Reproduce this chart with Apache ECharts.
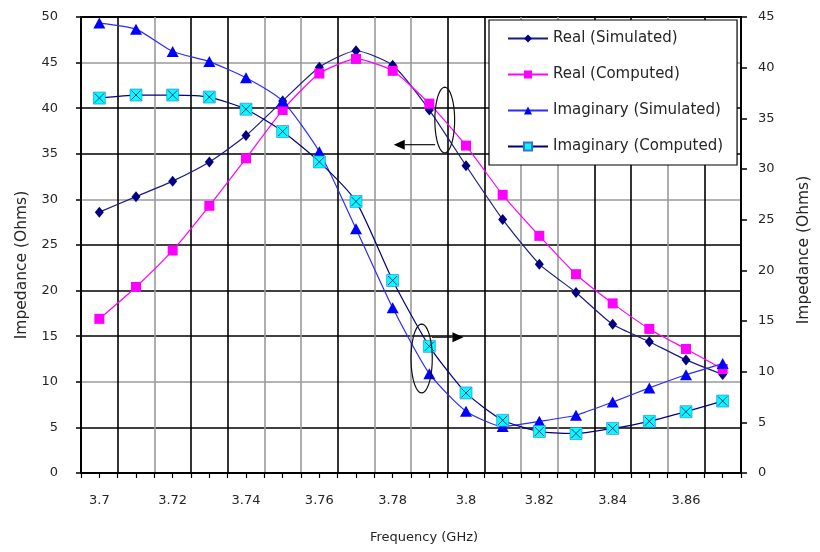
<!DOCTYPE html>
<html>
<head>
<meta charset="utf-8">
<script src="https://cdn.jsdelivr.net/npm/echarts@6/dist/echarts.min.js"></script>
<style>
  html, body { margin: 0; padding: 0; background: #fff; }
  #chart { width: 820px; height: 552px; }
</style>
</head>
<body>
<div id="chart"></div>
<script>
// Frequency points (GHz)
const frequencies = ['3.7', '3.71', '3.72', '3.73', '3.74', '3.75', '3.76', '3.77', '3.78',
                     '3.79', '3.8', '3.81', '3.82', '3.83', '3.84', '3.85', '3.86', '3.87'];

// Real part of impedance (Ohms), left axis
const realSimulated = [28.6, 30.3, 32.0, 34.1, 37.0, 40.8, 44.5, 46.3, 44.7,
                       39.8, 33.7, 27.8, 22.9, 19.8, 16.3, 14.4, 12.4, 10.8];
const realComputed  = [16.9, 20.4, 24.4, 29.3, 34.5, 39.8, 43.8, 45.4, 44.1,
                       40.5, 35.9, 30.5, 26.0, 21.8, 18.6, 15.8, 13.6, 11.4];

// Imaginary part of impedance (Ohms), right axis
const imagSimulated = [44.4, 43.8, 41.6, 40.6, 39.0, 36.7, 31.7, 24.1, 16.3,
                       9.8, 6.1, 4.6, 5.1, 5.7, 7.0, 8.4, 9.7, 10.8];
const imagComputed  = [37.0, 37.3, 37.3, 37.1, 35.9, 33.7, 30.7, 26.8, 19.0,
                       12.5, 7.9, 5.2, 4.1, 3.9, 4.4, 5.1, 6.05, 7.1];

// Axis ranges
const leftAxisRange = { min: 0, max: 50, step: 5 };
const rightAxisRange = { min: 0, max: 45, step: 5 };

const seriesNames = ['Real (Simulated)', 'Real (Computed)', 'Imaginary (Simulated)', 'Imaginary (Computed)'];

// Minor tick slots: two per frequency (boundaries and centres)
const halfSlots = frequencies.flatMap(f => [f + 'a', f + 'b']);

const FONT = 'DejaVu Sans';
const TEXT = '#262626';
const K = '#000', G = '#9a9a9a';
const xGridColors = [K, K, G, K, K, G, G, K, G, G, K, K, G, G, K, K, G, K, K];
const yGridColors = [K, K, G, K, K, K, G, K, K, G, K];

const chart = echarts.init(document.getElementById('chart'), null, { renderer: 'canvas' });

const option = {
  animation: false,
  backgroundColor: '#fff',
  grid: { left: 81, right: 77, top: 17, bottom: 79, show: true, borderColor: '#000', borderWidth: 2, backgroundColor: 'transparent' },
  legend: {
    data: seriesNames,
    orient: 'vertical',
    left: 489, top: 20,
    itemWidth: 40, itemHeight: 10, itemGap: 21,
    padding: [11, 14, 11, 18],
    backgroundColor: '#fff',
    borderColor: '#000', borderWidth: 1.2, borderRadius: 0,
    textStyle: { fontFamily: FONT, fontSize: 15, color: TEXT },
    selectedMode: false
  },
  xAxis: [
    {
      type: 'category',
      data: frequencies,
      boundaryGap: true,
      position: 'bottom',
      axisLine: { lineStyle: { color: '#000', width: 2 } },
      axisTick: { show: false },
      axisLabel: { interval: 1, margin: 21, fontFamily: FONT, fontSize: 13, color: TEXT },
      splitLine: { show: true, interval: 0, lineStyle: { color: xGridColors, width: 1.6 } },
      name: 'Frequency (GHz)', nameLocation: 'middle', nameGap: 58,
      nameTextStyle: { fontFamily: FONT, fontSize: 13, color: TEXT, padding: [0, 0, 0, 26] }
    },
    {
      type: 'category',
      data: halfSlots,
      boundaryGap: true,
      position: 'bottom',
      axisLine: { show: false },
      axisTick: { show: true, interval: 0, length: 5, lineStyle: { color: '#000', width: 1.2 } },
      axisLabel: { show: false },
      splitLine: { show: false }
    }
  ],
  yAxis: [
    {
      type: 'value', position: 'left',
      min: leftAxisRange.min, max: leftAxisRange.max, interval: leftAxisRange.step,
      axisLine: { show: true, lineStyle: { color: '#000', width: 2 } },
      axisTick: { show: true, length: 5, lineStyle: { color: '#000', width: 1.5 } },
      axisLabel: { margin: 23, fontFamily: FONT, fontSize: 13, color: TEXT },
      splitLine: { show: true, lineStyle: { color: yGridColors, width: 1.6 } },
      name: 'Impedance (Ohms)', nameLocation: 'middle', nameGap: 51, nameRotate: 90,
      nameTextStyle: { fontFamily: FONT, fontSize: 15.5, color: TEXT, padding: [0, 40, 0, 0] }
    },
    {
      type: 'value', position: 'right',
      min: rightAxisRange.min, max: rightAxisRange.max, interval: rightAxisRange.step,
      axisLine: { show: true, lineStyle: { color: '#000', width: 2 } },
      axisTick: { show: true, length: 6, lineStyle: { color: '#000', width: 1.5 } },
      axisLabel: { margin: 17, fontFamily: FONT, fontSize: 13, color: TEXT },
      splitLine: { show: false },
      name: 'Impedance (Ohms)', nameLocation: 'middle', nameGap: 55, nameRotate: 90,
      nameTextStyle: { fontFamily: FONT, fontSize: 15.5, color: TEXT, padding: [0, 10, 0, 0] }
    }
  ],
  series: [
    {
      name: seriesNames[0], type: 'line', xAxisIndex: 0, yAxisIndex: 0,
      data: realSimulated, smooth: 0.2,
      symbol: 'diamond', symbolSize: [9, 11],
      itemStyle: { color: '#000080' },
      lineStyle: { color: '#1a1a8c', width: 1.2 }, z: 3
    },
    {
      name: seriesNames[1], type: 'line', xAxisIndex: 0, yAxisIndex: 0,
      data: realComputed, smooth: 0.2,
      symbol: 'rect', symbolSize: 10,
      itemStyle: { color: '#ff00ff' },
      lineStyle: { color: '#ff00ff', width: 1.2 }, z: 3
    },
    {
      name: seriesNames[2], type: 'line', xAxisIndex: 0, yAxisIndex: 1,
      data: imagSimulated, smooth: 0.2,
      symbol: 'triangle', symbolSize: [12, 11],
      itemStyle: { color: '#0000ff' },
      lineStyle: { color: '#2b2bff', width: 1.2 }, z: 3
    },
    {
      name: seriesNames[3], type: 'line', xAxisIndex: 0, yAxisIndex: 1,
      data: imagComputed, smooth: 0.2,
      symbol: 'rect', symbolSize: 12,
      itemStyle: { color: '#00ffff', borderColor: '#3a6fd8', borderWidth: 0.6 },
      lineStyle: { color: '#000080', width: 1.2 }, z: 3
    },
    {
      // cross drawn inside each computed imaginary marker
      name: seriesNames[3], type: 'scatter', xAxisIndex: 0, yAxisIndex: 1,
      data: imagComputed,
      symbol: 'path://M0,0L10,10M10,0L0,10', symbolSize: 9,
      itemStyle: { color: 'transparent', borderColor: '#000080', borderWidth: 1 },
      silent: true, z: 4
    }
  ]
};

chart.setOption(option);

// Annotation helpers: fractional category index + value -> pixel
function toPixel(idx, val, yAxisIndex) {
  const i0 = Math.floor(idx), f = idx - i0;
  const a = chart.convertToPixel({ xAxisIndex: 0, yAxisIndex }, [i0, val]);
  const b = chart.convertToPixel({ xAxisIndex: 0, yAxisIndex }, [i0 + 1, val]);
  return [a[0] + (b[0] - a[0]) * f, a[1]];
}
function ellipsePoints(cx, cy, rx, ry) {
  const pts = [];
  for (let k = 0; k < 48; k++) {
    const t = (k / 48) * Math.PI * 2;
    pts.push([cx + rx * Math.cos(t), cy + ry * Math.sin(t)]);
  }
  return pts;
}
const catWidth = toPixel(1, 0, 0)[0] - toPixel(0, 0, 0)[0];

// Ellipse + arrow marking which axis each pair of curves uses
const callouts = [
  { axis: 0, centerIdx: 9.42, top: 42.3, bottom: 35.1, halfWidth: 0.27, arrowVal: 36.0, tipIdx: 8.03, dir: -1 },
  { axis: 1, centerIdx: 8.79, top: 14.7, bottom: 7.9, halfWidth: 0.29, arrowVal: 13.4, tipIdx: 9.93, dir: 1 }
];

const graphics = [];
callouts.forEach(c => {
  const topPt = toPixel(c.centerIdx, c.top, c.axis);
  const botPt = toPixel(c.centerIdx, c.bottom, c.axis);
  const cx = topPt[0], cy = (topPt[1] + botPt[1]) / 2;
  const rx = c.halfWidth * catWidth, ry = (botPt[1] - topPt[1]) / 2;
  graphics.push({
    type: 'polygon', z: 10,
    shape: { points: ellipsePoints(cx, cy, rx, ry) },
    style: { fill: 'none', stroke: '#111', lineWidth: 1.2 }
  });
  const y = toPixel(0, c.arrowVal, c.axis)[1];
  const startX = cx + c.dir * rx * 0.97;
  const tipX = toPixel(c.tipIdx, c.arrowVal, c.axis)[0];
  const headLen = 11, headHalf = 5;
  graphics.push({
    type: 'line', z: 10,
    shape: { x1: startX, y1: y, x2: tipX - c.dir * headLen, y2: y },
    style: { stroke: '#111', lineWidth: 1.2 }
  });
  graphics.push({
    type: 'polygon', z: 10,
    shape: { points: [[tipX, y], [tipX - c.dir * headLen, y - headHalf], [tipX - c.dir * headLen, y + headHalf]] },
    style: { fill: '#000' }
  });
});
chart.setOption({ graphic: graphics });
</script>
</body>
</html>
